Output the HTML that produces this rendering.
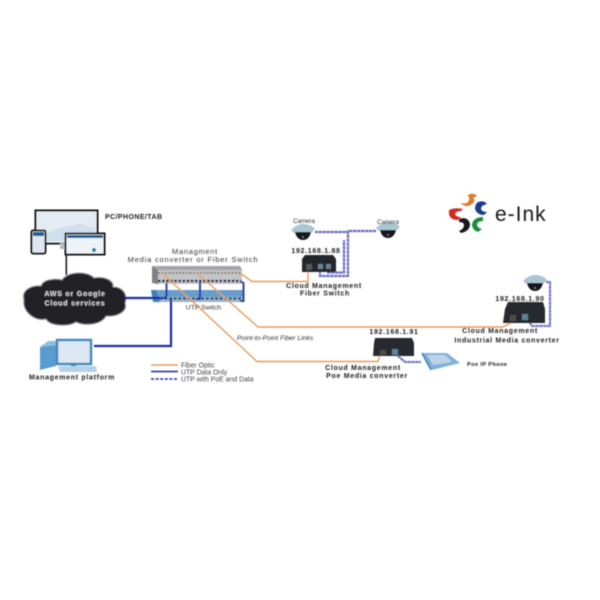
<!DOCTYPE html>
<html><head><meta charset="utf-8"><style>
html,body{margin:0;padding:0;background:#fff;width:600px;height:600px;overflow:hidden}
svg{display:block}
text{font-family:"Liberation Sans",sans-serif;fill:#222}
.b{font-weight:bold;font-size:7px;letter-spacing:.7px}
.m{font-size:7.5px;letter-spacing:.7px;fill:#333}
.l{font-size:6.9px;fill:#444}
</style></head><body>
<svg width="600" height="600" viewBox="0 0 600 600" xmlns="http://www.w3.org/2000/svg">
<defs>
<filter id="s" x="-5%" y="-5%" width="110%" height="110%"><feGaussianBlur stdDeviation="0.45"/></filter>
<g id="dome"><path d="M-12,-2 Q-5,-9 2,-8 Q9,-7 12,-3 L8,1 H-9Z" fill="#a9c6d2"/><path d="M-8,0 H8 Q6,8 0,8 Q-6,8 -8,0Z" fill="#14161a"/><circle cx="0" cy="5" r="1" fill="#777"/></g>
</defs>
<g filter="url(#s)">

<!-- devices -->
<rect x="35.5" y="210.5" width="62" height="33" fill="#e4ebf2" stroke="#111" stroke-width="2"/>
<path d="M38,236 L60,228 L80,224 L95,228 V241 H38Z" fill="#cfdfee"/>
<rect x="60" y="243" width="12" height="6" fill="#bbb"/>
<rect x="31.5" y="230.5" width="14" height="23" rx="1.5" fill="#dfe8f0" stroke="#151515" stroke-width="2"/>
<rect x="33" y="232" width="11" height="4" fill="#1f5f96"/>
<rect x="65.5" y="233.5" width="39" height="21" fill="#eef3f7" stroke="#111" stroke-width="2"/>
<rect x="67" y="235" width="36" height="3" fill="#2a5f90"/>
<circle cx="94" cy="250" r="2" fill="#2c7fa5"/>
<rect x="65.5" y="254" width="1.6" height="21" fill="#222"/>

<!-- cloud -->
<path d="M24,300 C21,290 32,285 41,286 C44,278 58,279 62,280 C68,271 88,271 94,278 C105,276 114,281 113,287 C123,287 128,295 125,303 C128,312 116,317 106,316 C101,325 85,326 76,322 C68,327 50,326 46,319 C36,322 22,312 24,300Z" fill="#202226" stroke="#8b8f94" stroke-width="1"/>
<text x="75" y="296" text-anchor="middle" style="font-weight:bold;font-size:7px;letter-spacing:.8px;fill:#ddd">AWS or Google</text>
<text x="75" y="305.5" text-anchor="middle" style="font-weight:bold;font-size:7px;letter-spacing:.8px;fill:#ddd">Cloud services</text>
<text x="105" y="219" class="b" style="letter-spacing:.42px">PC/PHONE/TAB</text>

<!-- mgmt PC -->
<path d="M40,347 L56,345 V366 L40,370 V351Z" fill="#5a9ccd"/>
<path d="M40,347 L56,345 L60,341 L48,341Z" fill="#8dbfe0"/>
<rect x="57" y="340" width="34" height="24" fill="#dde8f2" stroke="#3d88c0" stroke-width="2.4"/>
<rect x="71" y="364" width="5" height="3" fill="#3d7fb0"/>
<path d="M58,366 H96 L97,372 H60Z" fill="#b4d1e7"/>
<text x="72" y="379.5" text-anchor="middle" class="b">Management platform</text>

<!-- switches -->
<path d="M152,266 L242,268 V284 H156Z" fill="#c4c5c8"/>
<path d="M152,266 H240 L242,270 H158Z" fill="#a4a5a9"/>
<path d="M152,266 V283 L158,284 V270Z" fill="#7f8185"/>
<path d="M151,290 H243 V302 H155Z" fill="#669dcc"/>
<path d="M151,290 H156 L160,302 H153Z" fill="#3f7fb6"/>
<path d="M160,297 H243 V302 H160Z" fill="#9ab2c6"/>
<path d="M158,273 H241" stroke="#8c8478" stroke-width="2" stroke-dasharray="2 1.5"/>
<path d="M158,281 H241" stroke="#0c1640" stroke-width="2.2" stroke-dasharray="2.5 1.6"/>
<path d="M160,298.5 H242" stroke="#0c1640" stroke-width="1.8" stroke-dasharray="2.6 2"/>

<!-- orange fibre -->
<g fill="none" stroke="#e89c5c" stroke-width="1.4">
<path d="M240,273 L252,281.5 H308 V269"/>
<path d="M197,273 L258,327 H503 L516,320"/>
<path d="M162,273 L257,361.5 H378 L381,352"/>
</g>

<!-- blue UTP -->
<g fill="none" stroke="#1d2ea8" stroke-width="1.8">
<path d="M160,298 H165 L166.5,296 V283"/>
<path d="M196,299 H200 V281"/>
<path d="M240,301 H243.5 V283 L240,281"/>
</g>
<path d="M94,346 H171 V298" fill="none" stroke="#1b2aa0" stroke-width="2.2"/>
<path d="M125,298 H160" fill="none" stroke="#1b2aa0" stroke-width="2.2"/>

<!-- labels -->
<text x="195" y="254" text-anchor="middle" class="m">Managment</text>
<text x="193" y="262" text-anchor="middle" class="m" style="letter-spacing:.8px">Media converter or Fiber Switch</text>
<text x="203.500" y="309.500" text-anchor="middle" style="font-size:6.8px;fill:#333">UTP Switch</text>
<text x="237" y="340" style="font-size:6.8px;font-style:italic;fill:#333">Point-to-Point Fiber Links</text>

<!-- legend -->
<path d="M151,365 H178" stroke="#e89c5c" stroke-width="1.5"/>
<path d="M151,371.5 H178" stroke="#1d2ea8" stroke-width="1.6"/>
<path d="M151,379 H178" stroke="#2a2f9c" stroke-width="1.4" stroke-dasharray="3 1.6"/>
<text x="181" y="367.5" class="l">Fiber Optic</text>
<text x="181" y="374.5" class="l">UTP Data Only</text>
<text x="181" y="381.5" class="l">UTP with PoE and Data</text>

<!-- cameras -->
<use href="#dome" x="303" y="232"/>
<use href="#dome" x="388" y="230"/>
<text x="304" y="223" text-anchor="middle" style="font-size:6.2px;fill:#333">Camera</text>
<text x="388" y="224" text-anchor="middle" style="font-size:6.2px;fill:#333">Camera</text>
<g fill="none" stroke="#a8a9e0" stroke-width="2.6">
<path d="M315,232 H348 M376,231 H348 V276 H320 V268 M328,268 V272.500 H344 V240"/>
</g>
<g fill="none" stroke="#2b2d96" stroke-width="1.2" stroke-dasharray="2.4 1.6">
<path d="M315,232 H348 M376,231 H348 V276 H320 V268 M328,268 V272.500 H344 V240"/>
</g>
<text x="316" y="253" text-anchor="middle" class="b">192.168.1.88</text>
<path d="M305,255 H333 L336,259 V272 H302 V259Z" fill="#24282c"/>
<rect x="306" y="264" width="6" height="6" fill="#555"/><rect x="318" y="264" width="5" height="5" fill="#6d7f92"/><rect x="326" y="264" width="5" height="5" fill="#6d7f92"/>
<text x="324" y="288" text-anchor="middle" class="b">Cloud Management</text>
<text x="325" y="295.500" text-anchor="middle" class="b">Fiber Switch</text>

<!-- logo -->
<path d="M460,203 Q467,209 473,203 Q476,200 473,198 L477,196 Q475,193 470,194 Q466,195 469,197 Q470,202 466,203 Q463,204 460,203Z" fill="#e27a25"/>
<path d="M478,202 Q484,200 487,204 L484,205 Q481,206 481,209 Q482,212 487,212 L484,215 Q477,215 475,209 Q475,204 478,202Z" fill="#1d3b8e"/>
<path d="M449,210 Q455,207 463,209 L461,211 Q456,211 455,214 Q456,217 461,217 L458,220 Q450,220 449,214Z" fill="#d32a22"/>
<path d="M459,219 Q468,216 470,224 Q470,231 461,233 L459,231 Q464,229 464,225 Q464,222 459,222Z" fill="#17181a"/>
<path d="M483,217 Q474,217 472,224 Q472,230 478,232 L482,229 Q477,228 477,224 Q478,221 483,221Z" fill="#1f8d3a"/>
<text x="495" y="221" style="font-size:21px;fill:#15171c;letter-spacing:1px">e-Ink</text>

<!-- industrial -->
<use href="#dome" x="535" y="283"/>
<g fill="none" stroke="#a8a9e0" stroke-width="2.4"><path d="M546,282 H550 V326 H532 L525,316"/></g>
<g fill="none" stroke="#2b2d96" stroke-width="1.1" stroke-dasharray="2.4 1.6"><path d="M546,282 H550 V326 H532 L525,316"/></g>
<text x="520" y="301" text-anchor="middle" class="b">192.168.1.90</text>
<path d="M508,302 H543 L545,309 V323 H503 L505,309Z" fill="#26292d"/>
<rect x="510" y="315" width="6" height="6" fill="#4b4b4b"/><rect x="522" y="314" width="6" height="6" fill="#5e8296"/>
<text x="500" y="333" text-anchor="middle" class="b">Cloud Management</text>
<text x="507" y="342.500" text-anchor="middle" class="b">Industrial Media converter</text>

<!-- poe -->
<text x="394" y="334" text-anchor="middle" class="b">192.168.1.91</text>
<path d="M375,338 H412 L414,343 V356 H373 L374,343Z" fill="#26292d"/>
<rect x="380" y="350" width="6" height="5" fill="#4b4b4b"/><rect x="392" y="349" width="6" height="6" fill="#5e8296"/>
<path d="M398,356 L405,362 H421" fill="none" stroke="#a8a9e0" stroke-width="2.4"/>
<path d="M398,356 L405,362 H421" fill="none" stroke="#2b2d96" stroke-width="1.1" stroke-dasharray="2.4 1.6"/>
<path d="M422,353 H447 L460,363 L432,370Z" fill="#7fb1da"/>
<path d="M427,355 H445 L452,362 L433,365Z" fill="#bcd3e6"/>
<path d="M422,353 L431,370" fill="none" stroke="#3f7fb6" stroke-width="1.5"/>
<text x="467" y="366" style="font-weight:bold;font-size:5.7px;letter-spacing:.35px">Poe IP Phone</text>
<text x="363" y="370" text-anchor="middle" class="b">Cloud Management</text>
<text x="367" y="378" text-anchor="middle" class="b">Poe Media converter</text>
</g>
</svg>
</body></html>
